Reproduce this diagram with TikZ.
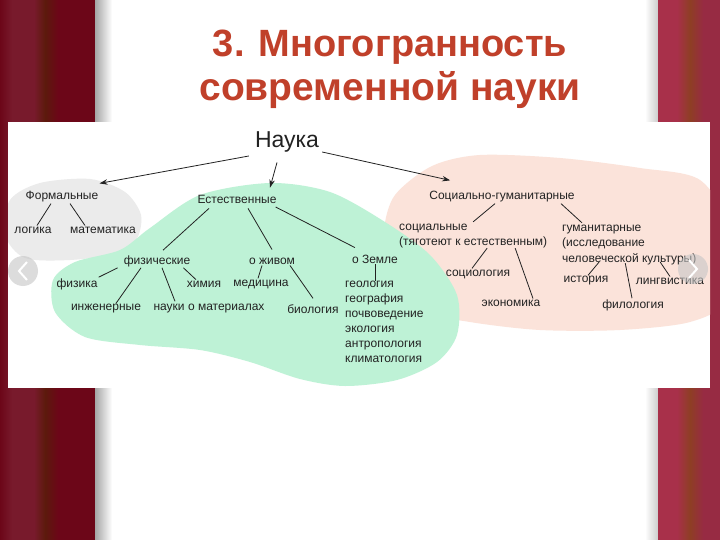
\documentclass[tikz,border=0pt]{standalone}
\usepackage{fontspec}
\setmainfont{Liberation Sans}
\usetikzlibrary{arrows.meta}

\definecolor{curtaindark}{HTML}{6C0618}
\definecolor{curtainlight}{HTML}{781A2C}
\definecolor{curtainbrown}{HTML}{5C1A0C}
\definecolor{curtainpink}{HTML}{A8304A}
\definecolor{curtainrust}{HTML}{8E3E24}
\definecolor{titlered}{HTML}{C0402A}
\definecolor{formalgray}{HTML}{EBEBEB}
\definecolor{naturalgreen}{HTML}{BEF2D6}
\definecolor{humanpink}{HTML}{FBE3DA}
\definecolor{labelink}{HTML}{222222}

\begin{document}
\begin{tikzpicture}[x=1pt,y=-1pt]

\tikzset{
  lbl/.style={inner sep=1pt,text=labelink,font=\fontsize{12}{15}\selectfont},
  biglbl/.style={inner sep=1pt,text=labelink,font=\fontsize{23}{26}\selectfont},
  multilbl/.style={lbl,align=left,inner sep=0pt},
  titlelbl/.style={text=titlered,anchor=base},
  link/.style={draw=labelink,line width=0.8pt},
  branch/.style={link,-{Stealth[length=8pt,width=5.5pt]}},
  navbtn/.style={fill=gray!45,opacity=0.6}
}

\useasboundingbox (0,0) rectangle (720,540);
\fill[white] (0,0) rectangle (720,540);

%% Curtains
\shade[left color=curtaindark,right color=curtainlight] (0,0) rectangle (12,540);
\fill[curtainlight] (12,0) rectangle (34,540);
\shade[left color=curtainlight,right color=curtainbrown] (34,0) rectangle (45,540);
\shade[left color=curtainbrown,right color=curtaindark] (45,0) rectangle (58,540);
\fill[curtaindark] (58,0) rectangle (95,540);
\shade[left color=black!35,right color=white] (95,0) rectangle (112,540);

\shade[left color=white,right color=black!20] (645,0) rectangle (658,540);
\fill[curtainpink] (658,0) rectangle (677,540);
\shade[left color=curtainpink,right color=curtainrust] (677,0) rectangle (690,540);
\shade[left color=curtainrust,right color=curtainpink!90!black] (690,0) rectangle (703,540);
\fill[curtainpink!90!black] (703,0) rectangle (720,540);

%% Title
\node[titlelbl,font=\fontsize{38}{40}\selectfont\bfseries] (title1) at (390,57) {3. Многогранность};
\node[titlelbl,font=\fontsize{39}{41}\selectfont\bfseries] (title2) at (390,101) {современной науки};

%% Picture
\fill[white] (8,122) rectangle (710,388);
\begin{scope}
\clip (8,122) rectangle (710,388);
\fill[formalgray] plot[smooth cycle] coordinates {(10,200) (40,183) (90,179) (125,192) (141,215) (136,240) (112,254) (70,260) (25,258) (5,235)};
\fill[humanpink] plot[smooth cycle] coordinates {(395,195) (432,166) (480,155) (560,158) (640,168) (700,180) (730,230) (725,300) (690,322) (620,330) (540,330) (470,322) (420,310) (388,270) (384,230)};
\fill[naturalgreen] plot[smooth cycle] coordinates {(270,183) (330,192) (385,222) (430,255) (457,295) (457,335) (437,362) (397,380) (345,386) (300,379) (250,362) (200,350) (140,345) (85,337) (55,312) (53,280) (75,262) (120,250) (150,228) (200,195)};
\end{scope}

%% Nodes
\node[biglbl] (science) at (287,142) {Наука};

\node[lbl] (formal) at (62,197) {Формальные};
\node[lbl] (logic) at (33,230) {логика};
\node[lbl] (math) at (103,230) {математика};

\node[lbl] (natural) at (237,199) {Естественные};
\node[lbl] (phys) at (157,261) {физические};
\node[lbl] (alive) at (272,261) {о живом};
\node[lbl] (earth) at (375,259) {о Земле};
\node[lbl] (physics) at (77,284) {физика};
\node[lbl] (chem) at (204,284) {химия};
\node[lbl] (med) at (261,284) {медицина};
\node[lbl] (eng) at (106,309) {инженерные};
\node[lbl] (mater) at (209,309) {науки о материалах};
\node[lbl] (bio) at (313,309) {биология};
\node[multilbl,anchor=north west] (earthlist) at (345,281)
  {геология\\география\\почвоведение\\экология\\антропология\\климатология};

\node[lbl] (socio) at (502,197) {Социально-гуманитарные};
\node[multilbl,anchor=west] (social) at (399,236) {социальные\\(тяготеют к естественным)};
\node[multilbl,anchor=west,font=\fontsize{12}{15.5}\selectfont] (human) at (562,245) {гуманитарные\\(исследование\\человеческой культуры)};
\node[lbl] (sociol) at (478,274) {социология};
\node[lbl] (econ) at (511,303) {экономика};
\node[lbl] (hist) at (586,281) {история};
\node[lbl] (ling) at (670,281) {лингвистика};
\node[lbl] (phil) at (633,305) {филология};

%% Branches from the root
\draw[branch] ([xshift=-5,yshift=-14]science.west) -- ([yshift=7]formal.north east);
\draw[branch] ([xshift=-10,yshift=-9]science.south) -- ([xshift=33,yshift=6]natural.north);
\draw[branch] ([xshift=2,yshift=-10]science.east) -- ([xshift=22,yshift=10]socio.north west);

%% Formal
\draw[link] ([xshift=-11]formal.south) -- ([xshift=4]logic.north);
\draw[link] ([xshift=8]formal.south) -- ([xshift=-18]math.north);

%% Natural
\draw[link] ([xshift=-28,yshift=-4]natural.south) -- ([xshift=6,yshift=4]phys.north);
\draw[link] ([xshift=11,yshift=-4]natural.south) -- ([yshift=7]alive.north);
\draw[link] ([xshift=-2,yshift=-8]natural.east) -- ([xshift=4,yshift=6]earth.north west);
\draw[link] ([xshift=-5]phys.south west) -- (physics.north east);
\draw[link] ([xshift=-16]phys.south) -- ([xshift=10]eng.north);
\draw[link] ([xshift=5]phys.south) -- ([xshift=-34,yshift=2]mater.north);
\draw[link] ([xshift=-8]phys.south east) -- ([xshift=-8]chem.north);
\draw[link] ([xshift=-10]alive.south) -- ([xshift=-3]med.north);
\draw[link] ([xshift=18]alive.south) -- ([yshift=5]bio.north);
\draw[link] (earth.south) -- (earth.south |- earthlist.north);

%% Social and humanities
\draw[link] ([xshift=-7]socio.south) -- ([yshift=2]social.north);
\draw[link] ([xshift=59]socio.south) -- ([xshift=20,yshift=2]human.north west);
\draw[link] ([xshift=14]social.south) -- ([xshift=-6]sociol.north);
\draw[link] ([xshift=42]social.south) -- ([xshift=22]econ.north);
\draw[link] ([xshift=37,yshift=3]human.south west) -- ([xshift=2]hist.north);
\draw[link] ([xshift=-4,yshift=2]human.south) -- ([xshift=-1]phil.north);
\draw[link] ([xshift=31,yshift=3]human.south) -- (ling.north);

%% Slider buttons
\fill[navbtn] (23,271) circle (15);
\draw[white,line width=2pt] (27,262) -- (19,271) -- (27,280);
\fill[navbtn] (693,269) circle (15);
\draw[white,line width=2pt] (689,260) -- (697,269) -- (689,278);

\end{tikzpicture}
\end{document}
